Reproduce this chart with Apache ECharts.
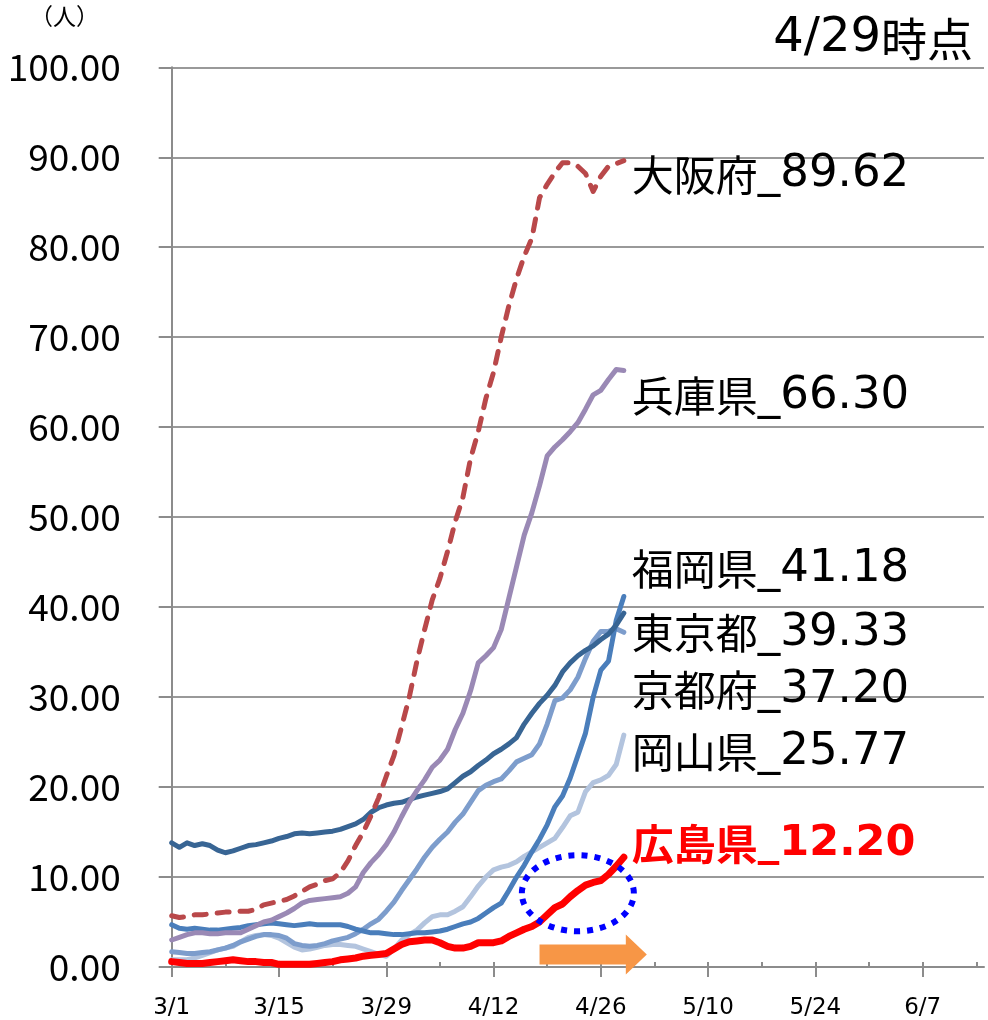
<!DOCTYPE html>
<html>
<head>
<meta charset="utf-8">
<script src="https://cdn.jsdelivr.net/npm/echarts@6/dist/echarts.min.js"></script>
<style>
  html, body { margin: 0; padding: 0; background: #fff; }
  #main { width: 988px; height: 1020px; }
</style>
</head>
<body>
<div id="main"></div>
<script>
// 3/1 から 6/15 までの日付（横軸）
const startDate = new Date(2020, 2, 1)
const dayCount = 107
const categories = []
for (let i = 0; i < dayCount; i++) {
  const d = new Date(startDate.getFullYear(), startDate.getMonth(), startDate.getDate() + i)
  categories.push((d.getMonth() + 1) + '/' + d.getDate())
}

const yTicks = [0, 10, 20, 30, 40, 50, 60, 70, 80, 90, 100]

// 各府県の値（3/1 〜 4/29）
const osaka = [5.7, 5.5, 5.6, 5.8, 5.8, 5.9, 6.0, 6.1, 6.1, 6.2, 6.2, 6.4, 6.9, 7.1, 7.3, 7.5, 7.9, 8.4, 8.9, 9.2,
  9.6, 9.8, 10.5, 11.8, 13.5, 15.0, 16.8, 18.8, 21.2, 23.5, 26.7, 30.0, 34.0, 37.5, 40.8, 43.2, 46.2, 49.5, 52.2, 56.5,
  59.5, 63.2, 66.1, 70.0, 73.5, 76.5, 79.0, 81.0, 85.5, 87.0, 88.3, 89.4, 89.4, 89.0, 88.2, 86.2, 87.9, 89.0, 89.3, 89.62]
const hyogo = [3.0, 3.3, 3.6, 3.8, 3.8, 3.7, 3.7, 3.8, 3.8, 3.8, 4.2, 4.6, 5.0, 5.2, 5.6, 6.0, 6.5, 7.1, 7.4, 7.5,
  7.6, 7.7, 7.8, 8.2, 8.9, 10.5, 11.6, 12.5, 13.6, 15.0, 16.7, 18.3, 19.6, 20.8, 22.2, 23.0, 24.2, 26.4, 28.2, 30.7,
  33.8, 34.6, 35.5, 37.5, 41.0, 44.5, 48.0, 50.5, 53.5, 56.8, 57.8, 58.6, 59.5, 60.5, 62.0, 63.6, 64.1, 65.3, 66.4, 66.30]
const fukuoka = [4.7, 4.3, 4.2, 4.3, 4.2, 4.1, 4.1, 4.2, 4.3, 4.4, 4.6, 4.7, 4.8, 4.9, 4.8, 4.7, 4.6, 4.7, 4.8, 4.7,
  4.7, 4.7, 4.7, 4.5, 4.2, 4.0, 3.8, 3.8, 3.7, 3.6, 3.6, 3.7, 3.8, 3.8, 3.9, 4.0, 4.2, 4.5, 4.8, 5.0,
  5.4, 6.0, 6.6, 7.1, 8.5, 10.0, 11.3, 12.8, 14.2, 15.8, 17.8, 19.0, 21.0, 23.5, 26.0, 30.0, 33.0, 34.0, 38.5, 41.18]
const tokyo = [13.8, 13.3, 13.8, 13.5, 13.7, 13.5, 13.0, 12.7, 12.9, 13.2, 13.5, 13.6, 13.8, 14.0, 14.3, 14.5, 14.8, 14.9, 14.8, 14.9,
  15.0, 15.1, 15.3, 15.6, 15.9, 16.4, 17.2, 17.7, 18.0, 18.2, 18.3, 18.6, 18.9, 19.1, 19.3, 19.5, 19.8, 20.5, 21.2, 21.7,
  22.4, 23.0, 23.7, 24.2, 24.8, 25.5, 27.0, 28.2, 29.3, 30.2, 31.3, 32.8, 33.8, 34.6, 35.2, 35.7, 36.4, 37.0, 38.0, 39.33]
const kyoto = [1.7, 1.6, 1.5, 1.5, 1.6, 1.7, 1.9, 2.1, 2.4, 2.8, 3.1, 3.4, 3.6, 3.6, 3.5, 3.2, 2.6, 2.4, 2.3, 2.4,
  2.6, 2.9, 3.1, 3.3, 3.7, 4.2, 4.8, 5.3, 6.2, 7.2, 8.5, 9.7, 10.9, 12.2, 13.3, 14.2, 15.0, 16.1, 17.0, 18.3,
  19.6, 20.2, 20.6, 20.9, 21.8, 22.8, 23.2, 23.6, 24.8, 27.0, 29.6, 29.9, 30.8, 32.2, 34.3, 36.2, 37.3, 37.3, 37.6, 37.20]
const okayama = [0.8, 0.8, 0.8, 1.0, 1.3, 1.6, 1.9, 2.1, 2.3, 2.8, 3.3, 3.5, 3.6, 3.5, 3.2, 2.7, 2.2, 1.9, 2.0, 2.2,
  2.4, 2.5, 2.5, 2.4, 2.3, 2.0, 1.7, 1.4, 1.2, 2.0, 3.0, 3.6, 4.1, 4.9, 5.6, 5.8, 5.8, 6.2, 6.7, 7.8,
  9.0, 10.0, 10.8, 11.1, 11.3, 11.7, 12.3, 12.8, 13.3, 13.8, 14.3, 15.5, 16.8, 17.2, 19.5, 20.5, 20.8, 21.3, 22.5, 25.77]
const hiroshima = [0.6, 0.5, 0.4, 0.4, 0.4, 0.5, 0.6, 0.7, 0.8, 0.7, 0.6, 0.6, 0.5, 0.5, 0.3, 0.3, 0.3, 0.3, 0.3, 0.4,
  0.5, 0.6, 0.8, 0.9, 1.0, 1.2, 1.3, 1.4, 1.5, 2.0, 2.5, 2.8, 2.9, 3.0, 3.0, 2.7, 2.3, 2.1, 2.1, 2.3,
  2.7, 2.7, 2.7, 2.9, 3.4, 3.8, 4.2, 4.5, 5.0, 5.8, 6.6, 7.0, 7.8, 8.5, 9.1, 9.4, 9.6, 10.3, 11.2, 12.20]

const CJK = '"Noto Sans CJK JP", sans-serif'
const LATIN = '"DejaVu Sans", "Noto Sans CJK JP", sans-serif'

function makeLine (name, data, color, width, labelDy, labelColor, bold) {
  const weight = bold ? 'bold' : 'normal'
  return {
    name: name,
    type: 'line',
    data: data,
    showSymbol: false,
    symbol: 'none',
    smooth: false,
    silent: true,
    lineStyle: { color: color, width: width, cap: 'round', join: 'round' },
    endLabel: {
      show: true,
      distance: 0,
      offset: [8, labelDy],
      color: labelColor,
      formatter: function (p) {
        return '{c|' + p.seriesName + '}{n|_' + Number(p.value).toFixed(2) + '}'
      },
      rich: {
        c: { fontFamily: CJK, fontSize: 42, color: labelColor, fontWeight: weight },
        n: { fontFamily: LATIN, fontSize: bold ? 43 : 45, color: labelColor, fontWeight: weight }
      }
    }
  }
}

const chart = echarts.init(document.getElementById('main'), null, { renderer: 'canvas' })

const series = [
  makeLine('岡山県', okayama, '#B3C4DE', 5, 17, '#000'),
  makeLine('京都府', kyoto, '#7D9DCC', 5, 58, '#000'),
  makeLine('福岡県', fukuoka, '#4A7EBB', 5, -27, '#000'),
  makeLine('東京都', tokyo, '#386594', 5, 20, '#000'),
  makeLine('兵庫県', hyogo, '#9A89B5', 5, 26, '#000'),
  makeLine('大阪府', osaka, '#B9484A', 5, 14, '#000'),
  makeLine('広島県', hiroshima, '#FF0000', 7, -13, '#FF0000', true)
]
series[5].lineStyle.type = [12, 11]

chart.setOption({
  animation: false,
  backgroundColor: '#fff',
  grid: { left: 171.7, right: 4, top: 67.3, bottom: 52.7, containLabel: false },
  xAxis: [
    {
      type: 'category',
      data: categories,
      boundaryGap: false,
      axisLine: { show: true, lineStyle: { color: '#8c8c8c', width: 2 } },
      axisTick: { show: true, interval: 6, inside: true, length: 5, lineStyle: { color: '#8c8c8c', width: 2 } },
      axisLabel: { show: false },
      splitLine: { show: false }
    },
    {
      type: 'category',
      data: categories,
      boundaryGap: false,
      position: 'bottom',
      axisLine: { show: false },
      axisTick: { show: true, interval: 13, inside: false, length: 10, lineStyle: { color: '#8c8c8c', width: 2 } },
      axisLabel: { show: true, interval: 13, margin: 30, fontSize: 23, color: '#000', fontFamily: LATIN },
      splitLine: { show: false }
    }
  ],
  yAxis: {
    type: 'value',
    min: yTicks[0],
    max: yTicks[yTicks.length - 1],
    interval: 10,
    axisLine: { show: true, lineStyle: { color: '#8c8c8c', width: 2 } },
    axisTick: { show: true, length: 13, lineStyle: { color: '#8c8c8c', width: 2 } },
    axisLabel: {
      margin: 51,
      fontSize: 37,
      color: '#000',
      fontFamily: CJK,
      formatter: function (v) { return v.toFixed(2) }
    },
    splitLine: { show: true, lineStyle: { color: '#999', width: 2 } }
  },
  series: series
})

// 注記（単位・時点・楕円・矢印）
const center = chart.convertToPixel({ gridIndex: 0 }, [53, 8.2])
const arrowStart = chart.convertToPixel({ gridIndex: 0 }, [48.1, 1.4])
const arrowTip = chart.convertToPixel({ gridIndex: 0 }, [61.5, 1.4])
const headLen = 21
const bodyHalf = 10
const headHalf = 20

chart.setOption({
  graphic: [
    {
      type: 'text',
      left: 30,
      top: 5,
      style: { text: '（人）', fontSize: 23, fill: '#000', fontFamily: CJK }
    },
    {
      type: 'text',
      right: 15,
      top: 15,
      style: {
        text: '{n|4/29}{c|時点}',
        fill: '#000',
        rich: {
          n: { fontFamily: LATIN, fontSize: 48 },
          c: { fontFamily: CJK, fontSize: 46 }
        }
      }
    },
    {
      type: 'ellipse',
      z: 100,
      shape: { cx: center[0], cy: center[1], rx: 56, ry: 38 },
      style: { fill: 'none', stroke: '#0000FF', lineWidth: 6, lineDash: [6, 7] }
    },
    {
      type: 'polygon',
      z: 100,
      shape: {
        points: [
          [arrowStart[0], arrowStart[1] - bodyHalf],
          [arrowTip[0] - headLen, arrowStart[1] - bodyHalf],
          [arrowTip[0] - headLen, arrowStart[1] - headHalf],
          [arrowTip[0], arrowTip[1]],
          [arrowTip[0] - headLen, arrowStart[1] + headHalf],
          [arrowTip[0] - headLen, arrowStart[1] + bodyHalf],
          [arrowStart[0], arrowStart[1] + bodyHalf]
        ]
      },
      style: { fill: '#F79646' }
    }
  ]
})
</script>
</body>
</html>
